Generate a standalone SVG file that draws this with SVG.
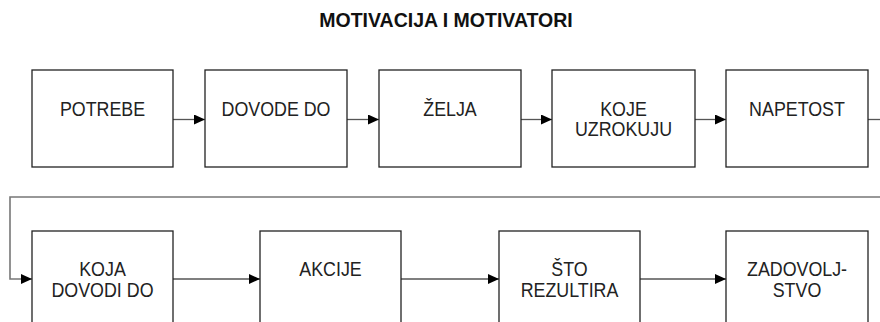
<svg xmlns="http://www.w3.org/2000/svg" width="880" height="322" viewBox="0 0 880 322">
<defs>
<marker id="ah" markerWidth="11" markerHeight="10" refX="11" refY="5" orient="auto" markerUnits="userSpaceOnUse">
<path d="M0,0 L11,5 L0,10 Z" fill="#000"/>
</marker>
<style>
.box{fill:#fff;stroke:#222;stroke-width:1.3}
.lbl{font-family:"Liberation Sans",Arial,sans-serif;font-size:20.5px;fill:#222;text-anchor:middle}
.ttl{font-family:"Liberation Sans",Arial,sans-serif;font-size:19.5px;font-weight:bold;fill:#111;text-anchor:middle}
.con{fill:none;stroke:#555;stroke-width:1.3}
.arr{marker-end:url(#ah)}
</style>
</defs>
<rect width="880" height="322" fill="#fff"/>
<text class="ttl" x="446" y="27">MOTIVACIJA I MOTIVATORI</text>
<g id="connectors">
<line class="con arr" x1="173" y1="119.5" x2="205" y2="119.5"/>
<line class="con arr" x1="347" y1="119.5" x2="379" y2="119.5"/>
<line class="con arr" x1="521" y1="119.5" x2="552" y2="119.5"/>
<line class="con arr" x1="695" y1="119.5" x2="726" y2="119.5"/>
<line class="con" x1="868" y1="119.5" x2="880" y2="119.5"/>
<path class="con arr" d="M880,197 H10 V279 H32" style="stroke:#777;stroke-width:1.6"/>
<line class="con arr" x1="173" y1="279" x2="260" y2="279"/>
<line class="con arr" x1="401" y1="279" x2="499" y2="279"/>
<line class="con arr" x1="640" y1="279" x2="726" y2="279"/>
</g>
<g id="n1"><rect class="box" x="32" y="70" width="141" height="97"/><g transform="translate(102.5,0) scale(0.87,1)"><text class="lbl" x="0" y="116.5">POTREBE</text></g></g>
<g id="n2"><rect class="box" x="205" y="70" width="142" height="97"/><g transform="translate(276,0) scale(0.87,1)"><text class="lbl" x="0" y="116.5">DOVODE DO</text></g></g>
<g id="n3"><rect class="box" x="379" y="70" width="142" height="97"/><g transform="translate(450,0) scale(0.87,1)"><text class="lbl" x="0" y="116.5">ŽELJA</text></g></g>
<g id="n4"><rect class="box" x="552" y="70" width="143" height="97"/><g transform="translate(623.5,0) scale(0.87,1)"><text class="lbl" x="0" y="116.5">KOJE</text><text class="lbl" x="0" y="136.5">UZROKUJU</text></g></g>
<g id="n5"><rect class="box" x="726" y="70" width="142" height="97"/><g transform="translate(797,0) scale(0.87,1)"><text class="lbl" x="0" y="116.5">NAPETOST</text></g></g>
<g id="n6"><rect class="box" x="32" y="231" width="141" height="97"/><g transform="translate(102.5,0) scale(0.87,1)"><text class="lbl" x="0" y="276">KOJA</text><text class="lbl" x="0" y="297">DOVODI DO</text></g></g>
<g id="n7"><rect class="box" x="260" y="231" width="141" height="97"/><g transform="translate(330.5,0) scale(0.87,1)"><text class="lbl" x="0" y="276">AKCIJE</text></g></g>
<g id="n8"><rect class="box" x="499" y="231" width="141" height="97"/><g transform="translate(569.5,0) scale(0.87,1)"><text class="lbl" x="0" y="276">ŠTO</text><text class="lbl" x="0" y="297">REZULTIRA</text></g></g>
<g id="n9"><rect class="box" x="726" y="231" width="142" height="97"/><g transform="translate(797,0) scale(0.87,1)"><text class="lbl" x="0" y="276">ZADOVOLJ-</text><text class="lbl" x="0" y="297">STVO</text></g></g>
</svg>
